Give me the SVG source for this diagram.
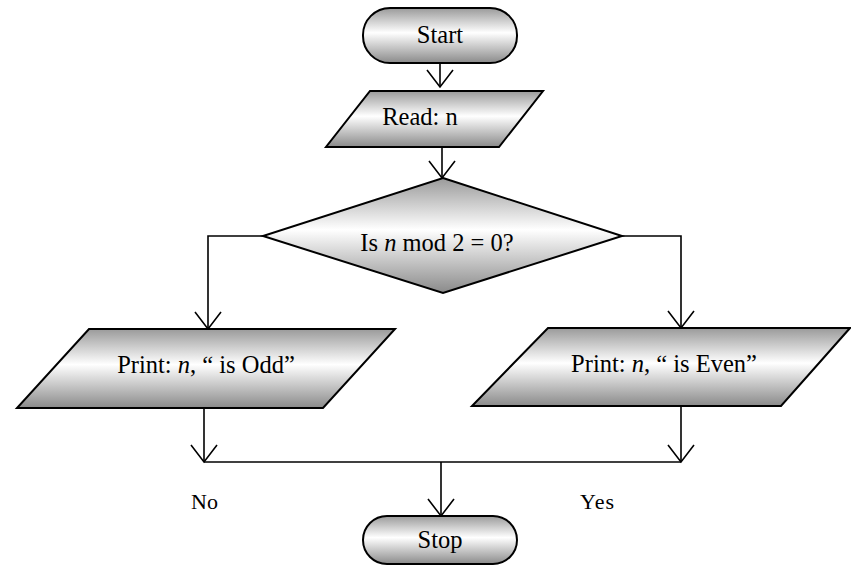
<svg xmlns="http://www.w3.org/2000/svg" width="851" height="567" viewBox="0 0 851 567">
<style>
.shape{stroke:#000;stroke-width:2;fill:url(#g)}
.conn{stroke:#000;stroke-width:1.6;fill:none}
.t{font-family:"Liberation Serif","Times New Roman",serif;font-size:24.5px;fill:#000;text-anchor:middle}
.lbl{font-family:"Liberation Serif","Times New Roman",serif;font-size:22px;fill:#000}
</style>
<defs>
<linearGradient id="g" x1="0" y1="0" x2="0" y2="1">
<stop offset="0" stop-color="#9a9a9a"/>
<stop offset="0.45" stop-color="#ffffff"/>
<stop offset="1" stop-color="#8a8a8a"/>
</linearGradient>
<marker id="a" markerUnits="userSpaceOnUse" markerWidth="30" markerHeight="30" refX="19" refY="15" orient="auto" viewBox="0 0 30 30">
<path d="M2,2 L19,15 L2,28" fill="none" stroke="#000" stroke-width="1.6"/>
</marker>
</defs>
<g id="connectors">
<line class="conn" x1="440" y1="63" x2="440" y2="87" marker-end="url(#a)"/>
<line class="conn" x1="442" y1="147" x2="442" y2="178" marker-end="url(#a)"/>
<polyline class="conn" points="263,236 208,236 208,329" marker-end="url(#a)"/>
<polyline class="conn" points="622,236 681,236 681,328" marker-end="url(#a)"/>
<line class="conn" x1="204" y1="408" x2="204" y2="462" marker-end="url(#a)"/>
<line class="conn" x1="681" y1="406" x2="681" y2="462" marker-end="url(#a)"/>
<line class="conn" x1="204" y1="462" x2="681" y2="462"/>
<line class="conn" x1="441" y1="462" x2="441" y2="516" marker-end="url(#a)"/>
</g>
<g id="start">
<rect class="shape" x="363" y="8" width="154" height="55" rx="27" ry="27"/>
<text class="t" x="440" y="43">Start</text>
</g>
<g id="read">
<polygon class="shape" points="370,91 543,91 499,147 326,147"/>
<text class="t" x="420" y="125">Read: n</text>
</g>
<g id="decision">
<polygon class="shape" points="443,178 622,236 443,293 263,236"/>
<text class="t" x="437" y="251">Is <tspan font-style="italic">n</tspan> mod 2 = 0?</text>
</g>
<g id="print-odd">
<polygon class="shape" points="89,329 395,329 323,408 17,408"/>
<text class="t" x="206" y="373">Print: <tspan font-style="italic">n</tspan>, “ is Odd”</text>
</g>
<g id="print-even">
<polygon class="shape" points="548,328 850,328 781,406 472,406"/>
<text class="t" x="664" y="372">Print: <tspan font-style="italic">n</tspan>, “ is Even”</text>
</g>
<g id="stop">
<rect class="shape" x="363" y="516" width="154" height="48" rx="24" ry="24"/>
<text class="t" x="440" y="548">Stop</text>
</g>
<text class="lbl" x="191" y="509">No</text>
<text class="lbl" x="580" y="509" letter-spacing="1">Yes</text>
</svg>
